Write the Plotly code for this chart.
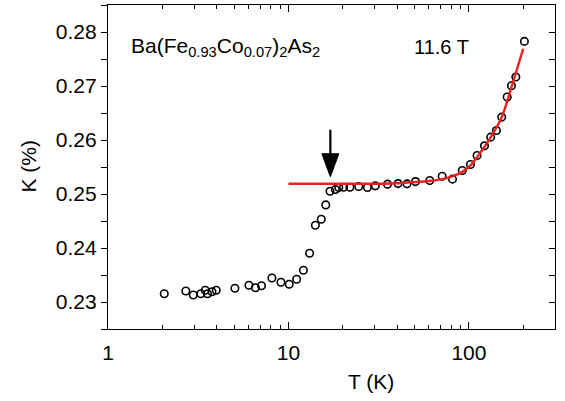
import math
import plotly.graph_objects as go

# Measured Knight shift K (%) versus temperature T (K)
temperature_K = [2.05, 2.70, 2.97, 3.27, 3.46, 3.56, 3.77, 3.98, 5.05, 6.04,
                 6.56, 7.09, 8.10, 9.09, 10.1, 11.1, 12.1, 13.1, 14.1, 15.2,
                 16.1, 17.0, 18.2, 19.0, 20.2, 21.9, 24.5, 27.4, 30.3, 35.4,
                 40.5, 45.4, 50.6, 60.7, 71.1, 81.1, 91.9, 102, 111, 122,
                 132, 142, 152, 163, 172, 182, 203]
knight_shift = [0.23154, 0.23204, 0.23130, 0.23154, 0.23217, 0.23154, 0.23191,
                0.23217, 0.23254, 0.23310, 0.23265, 0.23302, 0.23445, 0.23365,
                0.23328, 0.23421, 0.23588, 0.23903, 0.24422, 0.24533, 0.24798,
                0.25052, 0.25082, 0.25119, 0.25126, 0.25126, 0.25138, 0.25119,
                0.25151, 0.25182, 0.25193, 0.25188, 0.25230, 0.25249, 0.25330,
                0.25275, 0.25434, 0.25545, 0.25712, 0.25892, 0.26053, 0.26176,
                0.26424, 0.26795, 0.27004, 0.27166, 0.27826]

# Normal-state fit curve
fit_T = [10, 20, 30, 40, 50, 60, 70, 80, 92, 102, 112, 132, 152, 173, 200]
fit_K = [0.2519, 0.2519, 0.2519, 0.2520, 0.2522, 0.2524, 0.2527, 0.2532,
         0.2541, 0.2553, 0.2570, 0.2605, 0.2642, 0.2700, 0.2769]

# Axis ticks
x_major = [1, 10, 100]
x_major_text = ["1", "10", "100"]
x_minor = [m * 10 ** d for d in range(3) for m in range(2, 10) if m * 10 ** d <= 300]
y_range = [0.225, 0.285]
x_max = 300

# Arrow marking Tc
arrow_T = 17.07
arrow_K = 0.2532

FONT = "Liberation Sans, Arial, Helvetica, sans-serif"
RED = "#e8201e"

fig = go.Figure()
fig.add_trace(go.Scatter(
    x=fit_T, y=fit_K, mode="lines", yaxis="y2",
    line=dict(color=RED, width=2.4, shape="spline", smoothing=0.8),
    hoverinfo="skip", showlegend=False,
))
fig.add_trace(go.Scatter(
    x=temperature_K, y=knight_shift, mode="markers",
    marker=dict(symbol="circle-open", size=7.5, color="black",
                line=dict(color="black", width=1.6)),
    showlegend=False,
))

tick_font = dict(family=FONT, size=21, color="black")

fig.update_layout(
    width=565, height=401,
    margin=dict(l=108, r=10, t=5, b=72),
    paper_bgcolor="white", plot_bgcolor="white",
    font=tick_font,
    xaxis=dict(
        type="log", range=[0, math.log10(x_max)],
        tickvals=x_major, ticktext=x_major_text,
        ticks="inside", ticklen=7, tickwidth=1.2, tickcolor="black",
        minor=dict(tickvals=x_minor, ticks="inside", ticklen=4,
                   tickwidth=1.1, tickcolor="black"),
        showline=True, linecolor="black", linewidth=1.3, mirror="ticks",
        showgrid=False, zeroline=False, tickfont=tick_font,
        ticklabelstandoff=5,
    ),
    yaxis=dict(
        range=y_range, dtick=0.01, tick0=0.23, tickformat=".2f",
        ticks="outside", ticklen=6, tickwidth=1.2, tickcolor="black",
        minor=dict(dtick=0.005, ticks="outside", ticklen=6,
                   tickwidth=1.2, tickcolor="black"),
        showline=True, linecolor="black", linewidth=1.3, mirror=True,
        showgrid=False, zeroline=False, tickfont=tick_font,
    ),
    yaxis2=dict(
        range=y_range, dtick=0.01, tick0=0.23, overlaying="y", side="right",
        ticks="inside", ticklen=6, tickwidth=1.2, tickcolor="black",
        minor=dict(dtick=0.005, ticks="inside", ticklen=6,
                   tickwidth=1.2, tickcolor="black"),
        showticklabels=False, showline=True, linecolor="black", linewidth=1.3,
        showgrid=False, zeroline=False,
    ),
)

# Axis titles
fig.add_annotation(text="T (K)", xref="paper", yref="paper",
                   x=(371 - 108) / 447, y=-(381 - 329) / 324,
                   xanchor="center", yanchor="middle", showarrow=False,
                   font=tick_font)
fig.add_annotation(text="K (%)", xref="paper", yref="paper",
                   x=-(108 - 27.5) / 447, y=(329 - 166) / 324, textangle=-90,
                   xanchor="center", yanchor="middle", showarrow=False,
                   font=tick_font)

# Sample and field labels
fig.add_annotation(
    text="Ba(Fe<sub>0.93</sub>Co<sub>0.07</sub>)<sub>2</sub>As<sub>2</sub>",
    xref="paper", yref="paper", x=(129 - 108) / 447, y=(329 - 47) / 324,
    xanchor="left", yanchor="middle", showarrow=False,
    font=dict(family=FONT, size=21, color="black"))
fig.add_annotation(
    text="11.6 T", xref="paper", yref="paper",
    x=(441.5 - 108) / 447, y=(329 - 46.5) / 324,
    xanchor="center", yanchor="middle", showarrow=False,
    font=dict(family=FONT, size=20, color="black"))

# Downward arrow at the transition: head and shaft in pixel units
fig.add_shape(
    type="path", xref="x", yref="y", xsizemode="pixel", ysizemode="pixel",
    xanchor=arrow_T, yanchor=arrow_K,
    path="M0,0 L-8.5,23 L8.5,23 Z",
    fillcolor="black", line=dict(color="black", width=1), layer="above",
)
fig.add_shape(
    type="path", xref="x", yref="y", xsizemode="pixel", ysizemode="pixel",
    xanchor=arrow_T, yanchor=arrow_K,
    path="M0,20 L0,47",
    line=dict(color="black", width=2.2), layer="above",
)

fig.write_html("out.html")
